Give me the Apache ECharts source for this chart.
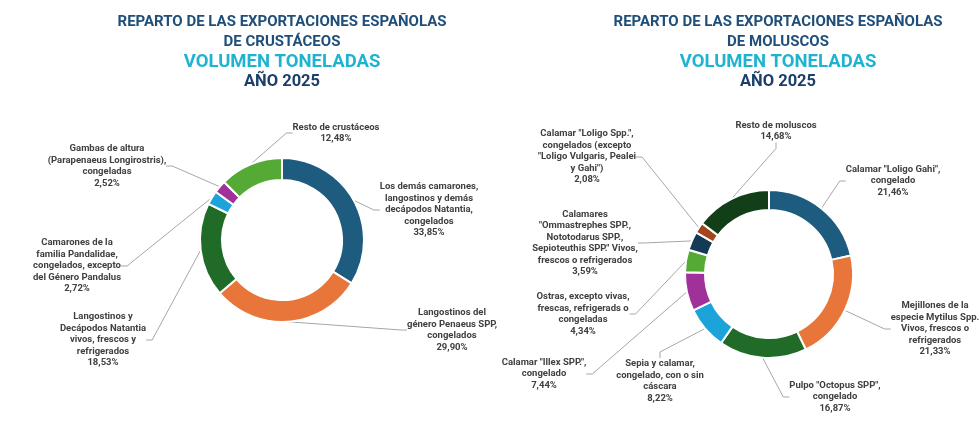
<!DOCTYPE html>
<html>
<head>
<meta charset="utf-8">
<script src="https://cdn.jsdelivr.net/npm/echarts@6/dist/echarts.min.js"></script>
<style>
  html, body { margin: 0; padding: 0; background: #fff; }
  #chart { width: 980px; height: 426px; }
</style>
</head>
<body>
<div id="chart"></div>
<script>
// Crustáceos
const crustNames = [
  'Los demás camarones,\nlangostinos y demás\ndecápodos Natantia,\ncongelados',
  'Langostinos del\ngénero Penaeus SPP,\ncongelados',
  'Langostinos y\nDecápodos Natantia\nvivos, frescos y\nrefrigerados',
  'Camarones de la\nfamilia Pandalidae,\ncongelados, excepto\ndel Género Pandalus',
  'Gambas de altura\n(Parapenaeus Longirostris),\ncongeladas',
  'Resto de crustáceos'
]
const crustValues = [33.85, 29.90, 18.53, 2.72, 2.52, 12.48]

// Moluscos
const molNames = [
  'Calamar "Loligo Gahi",\ncongelado',
  'Mejillones de la\nespecie Mytilus Spp.\nVivos, frescos o\nrefrigerados',
  'Pulpo "Octopus SPP",\ncongelado',
  'Sepia y calamar,\ncongelado, con o sin\ncáscara',
  'Calamar "Illex SPP.",\ncongelado',
  'Ostras, excepto vivas,\nfrescas, refrigerads o\ncongeladas',
  'Calamares\n"Ommastrephes SPP.,\nNototodarus SPP.,\nSepioteuthis SPP." Vivos,\nfrescos o refrigerados',
  'Calamar "Loligo Spp.",\ncongelados (excepto\n"Loligo Vulgaris, Pealei\ny Gahi")',
  'Resto de moluscos'
]
const molValues = [21.46, 21.33, 16.87, 8.22, 7.44, 4.34, 3.59, 2.08, 14.68]

const crustColors = ['#1D5C7E', '#E8763A', '#1F6B27', '#1BA3DA', '#A0309A', '#55AA36']
const molColors = ['#1D5C7E', '#E8763A', '#1F6B27', '#1BA3DA', '#A0309A', '#55AA36', '#133B55', '#A4461C', '#133F18']

// label anchors (centre of each text block)
const crustLabelPos = [[429, 210], [452, 330], [103, 340], [77, 266], [107, 166], [336, 133]]
const molLabelPos = [[893, 181], [935, 329], [835, 397], [660, 381], [544, 374], [583, 314], [585, 243], [587, 157], [776, 131]]

const myChart = echarts.init(document.getElementById('chart'))

const labelFont = {
  fontFamily: 'Roboto',
  fontWeight: 'bold',
  fontSize: 9.5,
  lineHeight: 11.5,
  color: '#404040'
}

function makeTitle(x, second) {
  return {
    left: x,
    top: 12,
    padding: 0,
    textAlign: 'center',
    text: '{a|REPARTO DE LAS EXPORTACIONES ESPAÑOLAS}\n{a|' + second + '}\n{b|VOLUMEN TONELADAS}\n{c|AÑO 2025}',
    textStyle: {
      rich: {
        a: { fontFamily: 'Roboto', fontWeight: 'bold', fontSize: 15, lineHeight: 20, color: '#1F4E79', align: 'center' },
        b: { fontFamily: 'Roboto', fontWeight: 'bold', fontSize: 18.5, lineHeight: 20, color: '#1FB3D0', align: 'center' },
        c: { fontFamily: 'Roboto', fontWeight: 'bold', fontSize: 16.5, lineHeight: 19, color: '#1B3F68', align: 'center' }
      }
    }
  }
}

function makePie(names, values, colors, center, radius) {
  return {
    type: 'pie',
    center: center,
    radius: radius,
    startAngle: 90,
    clockwise: true,
    avoidLabelOverlap: false,
    color: colors,
    itemStyle: {
      borderColor: '#fff',
      borderWidth: 2
    },
    label: Object.assign({
      show: true,
      position: 'outside',
      align: 'center',
      formatter: p => p.name + '\n' + p.value.toFixed(2).replace('.', ',') + '%'
    }, labelFont),
    labelLine: {
      show: true,
      length: 10,
      length2: 6,
      lineStyle: { color: '#A6A6A6', width: 1 }
    },
    emphasis: { disabled: true },
    data: names.map((n, i) => ({ name: n, value: values[i] }))
  }
}

const option = {
  animation: false,
  title: [
    makeTitle(282, 'DE CRUSTÁCEOS'),
    makeTitle(778, 'DE MOLUSCOS')
  ],
  series: [
    makePie(crustNames, crustValues, crustColors, [282, 240], [60, 82]),
    makePie(molNames, molValues, molColors, [769, 274], [64, 84])
  ]
}

option.series[0].labelLayout = p => {
  const pos = crustLabelPos[p.dataIndex]
  return { x: pos[0], y: pos[1], align: 'center', verticalAlign: 'middle' }
}
option.series[1].labelLayout = p => {
  const pos = molLabelPos[p.dataIndex]
  return { x: pos[0], y: pos[1], align: 'center', verticalAlign: 'middle' }
}

myChart.setOption(option)
</script>
</body>
</html>
